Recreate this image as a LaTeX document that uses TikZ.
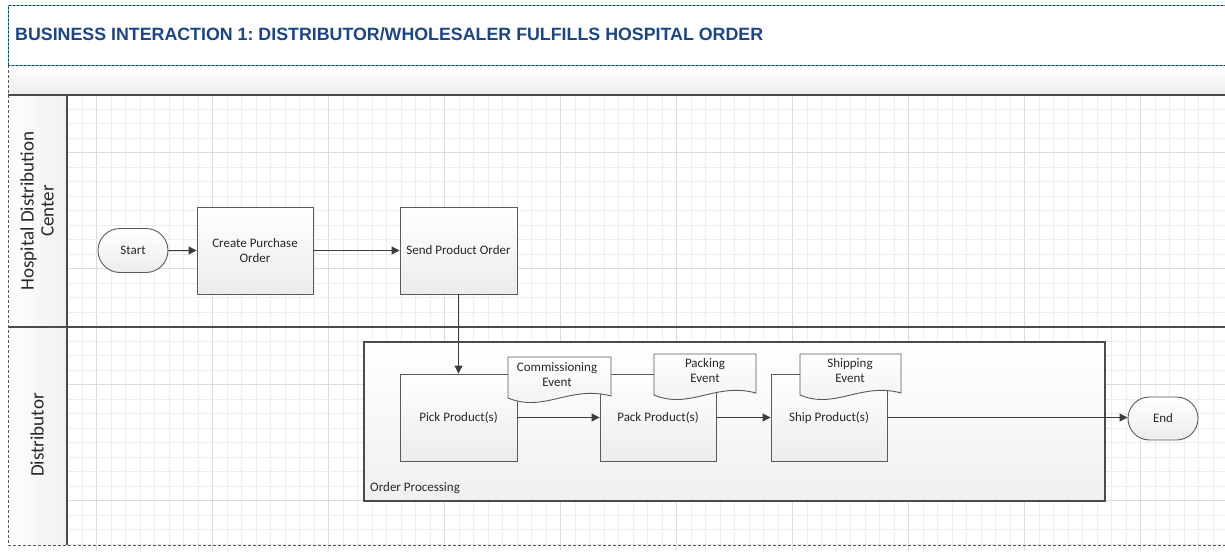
\documentclass[tikz,border=0pt]{standalone}
\usepackage{fontspec}
\setmainfont{Carlito}
\newfontfamily\titlefont{Liberation Sans}
\usetikzlibrary{arrows.meta,calc,shapes.misc}
\definecolor{titleblue}{RGB}{28,69,135}
\definecolor{selblue}{RGB}{60,175,235}
\definecolor{lanegray}{RGB}{75,75,75}
\definecolor{boxline}{RGB}{90,90,90}
\definecolor{gridminor}{RGB}{237,237,237}
\definecolor{gridmajor}{RGB}{220,220,220}
\definecolor{arrowgray}{RGB}{60,60,60}
\definecolor{txtgray}{RGB}{40,40,40}
\frenchspacing
\newcommand\mydoc[3]{%
  \draw[docline] (#1,#2) -- ({#1+#3},#2) -- ({#1+#3},{#2+39})
    .. controls ({#1+0.6*#3},{#2+28}) and ({#1+0.35*#3},{#2+56}) .. (#1,{#2+41}) -- cycle;}
\begin{document}
\begin{tikzpicture}[x=1pt,y=-1pt,
  every node/.style={text=txtgray},
  smallfont/.style={font=\fontsize{13}{15.7}\selectfont},
  procbox/.style={smallfont, draw=boxline, line width=0.9pt, top color=white, bottom color=gray!15,
    minimum width=116pt, minimum height=87pt, align=center, inner sep=2pt},
  terminal/.style={smallfont, rounded rectangle, draw=boxline, line width=0.9pt, top color=white,
    bottom color=gray!15, minimum width=72pt, minimum height=44pt, inner sep=1pt},
  docline/.style={draw=boxline, line width=0.9pt, top color=white, bottom color=gray!12},
  doctext/.style={smallfont, align=center, inner sep=0pt},
  flow/.style={draw=arrowgray, line width=1pt, -{Triangle[length=8pt,width=8pt]}},
  lanelabel/.style={rotate=90, align=center, font=\fontsize{19}{20}\selectfont}
  ]
\useasboundingbox (0,0) rectangle (1225,551);
\fill[white] (0,0) rectangle (1225,551);
% band and lane header column
\shade[top color=white, bottom color=gray!14] (8,65) rectangle (1225,95);
\shade[left color=white, right color=gray!12] (8,95) rectangle (67,545);
% grid
\begin{scope}
\clip (67,95) rectangle (1225,551) (0,545) rectangle (67,551);
\foreach \i in {-5,...,80} \draw[gridminor, line width=0.8pt] ({67.5+14.5*\i},95) -- ++(0,456);
\foreach \i in {-1,...,10} \draw[gridmajor, line width=0.9pt] ({96.5+116*\i},95) -- ++(0,456);
\foreach \j in {1,...,32} \draw[gridminor, line width=0.8pt] (0,{94.7+14.5*\j}) -- ++(1225,0);
\foreach \j in {0,...,3} \draw[gridmajor, line width=0.9pt] (0,{152.7+116*\j}) -- ++(1225,0);
\end{scope}
% pool lines
\draw[lanegray, line width=1.2pt] (8,95) -- (1225,95);
\draw[lanegray, line width=1.2pt] (8,327) -- (1225,327);
\draw[lanegray, line width=1.2pt] (67,95) -- (67,545);
% title selection border
\draw[selblue, line width=1pt] (8,65) -- (8,6) -- (1226,6);
\draw[selblue, line width=1pt] (8,65) -- (1226,65);
\draw[black!80, line width=1pt, dash pattern=on 2pt off 2pt] (8,65) -- (8,6) -- (1226,6);
\draw[black!80, line width=1pt, dash pattern=on 2pt off 2pt] (8,65) -- (1226,65);
% page dashed borders
\draw[gray!70!black, line width=0.9pt, dash pattern=on 3pt off 2pt] (8,65) -- (8,545) -- (1226,545);
% title
\node[anchor=base west, inner sep=0pt, text=titleblue, font=\titlefont\bfseries\fontsize{17.8}{20}\selectfont]
  (title) at (15,41) {BUSINESS INTERACTION 1: DISTRIBUTOR/WHOLESALER FULFILLS HOSPITAL ORDER};
% lane labels
\node[lanelabel] (hdc) at (37,211) {Hospital Distribution\\Center};
\node[lanelabel] (dist) at (37,435) {Distributor};
% container
\node[draw=lanegray, line width=1.2pt, top color=white, bottom color=gray!12,
  minimum width=741pt, minimum height=159pt, inner sep=0pt] (op) at (734.5,421.5) {};
\node[smallfont, anchor=base west, inner sep=0pt] (oplabel) at (370,491) {Order Processing};
% nodes
\node[terminal] (start) at (133,250.5) {Start};
\node[procbox] (create) at (255,250.5) {Create Purchase\\Order};
\node[procbox, minimum width=117pt] (send) at (458.5,250.5) {Send Product Order};
\node[procbox, minimum width=117pt] (pick) at (458.5,417.5) {Pick Product(s)};
\node[procbox] (pack) at (658,417.5) {Pack Product(s)};
\node[procbox] (ship) at (829,417.5) {Ship Product(s)};
\node[terminal, minimum height=43pt] (end) at (1163,418.5) {End};
% documents
\mydoc{508}{357}{103}
\mydoc{654}{354}{102}
\mydoc{800}{354}{101}
\node[doctext] (ce) at (557,374.5) {Commissioning\\Event};
\node[doctext] (pe) at (705,370.5) {Packing\\Event};
\node[doctext] (se) at (850,370.5) {Shipping\\Event};
% connectors
\draw[flow] (start) -- (create);
\draw[flow] (create) -- (send);
\draw[flow] (send) -- (pick);
\draw[flow] (pick) -- (pack);
\draw[flow] (pack) -- (ship);
\draw[flow] (ship.east) -- (ship.east -| end.west);
\end{tikzpicture}
\end{document}
